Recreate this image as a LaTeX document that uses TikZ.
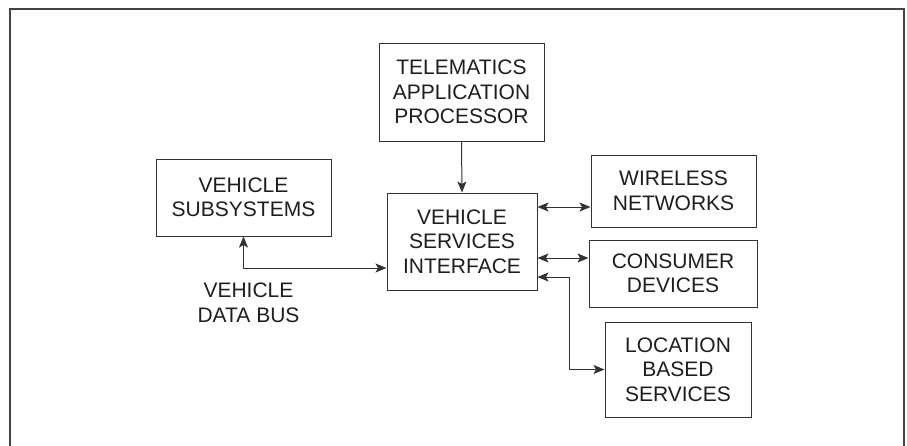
\documentclass[tikz,border=0pt]{standalone}
\usepackage{fontspec}
\setmainfont{Liberation Sans}
\usetikzlibrary{arrows.meta,positioning,calc}
\definecolor{inkdark}{HTML}{1E1E1E}
\definecolor{linedark}{HTML}{333333}
\definecolor{framegray}{HTML}{444444}

\begin{document}
\begin{tikzpicture}[
  x=1pt, y=-1pt,
  font=\fontsize{21}{24.5}\selectfont,
  blk/.style  = {draw=linedark, line width=1pt, text=inkdark, align=center,
                 inner sep=0pt},
  ln/.style   = {-{Stealth[length=11pt, width=9pt, inset=2.5pt]}, draw=linedark, line width=1pt},
  lnn/.style  = {{Stealth[length=11pt, width=9pt, inset=2.5pt]}-{Stealth[length=11pt, width=9pt, inset=2.5pt]},
                 draw=linedark, line width=1pt},
  lbl/.style  = {text=inkdark, align=center, inner sep=0pt},
]
\useasboundingbox (0,0) rectangle (907,445);

% --- outer frame ---------------------------------------------------------------------------------
\draw[framegray, line width=2pt] (10,480) -- (10,9) -- (903.5,9) -- (903.5,480);

% --- the blocks ----------------------------------------------------------------------------------
\node[blk, minimum width=165pt, minimum height=98pt] (tap) at (461.5,92)
  {TELEMATICS\\APPLICATION\\PROCESSOR};
\node[blk, minimum width=150pt, minimum height=97pt] (vsi) at (462,241.5)
  {VEHICLE\\SERVICES\\INTERFACE};
\node[blk, minimum width=175pt, minimum height=77pt] (vsub) at (243.5,197.5)
  {VEHICLE\\SUBSYSTEMS};
\node[blk, minimum width=165pt, minimum height=72pt] (wless) at (673.5,191)
  {WIRELESS\\NETWORKS};
\node[blk, minimum width=168pt, minimum height=67pt] (cdev) at (673,273.5)
  {CONSUMER\\DEVICES};
\node[blk, minimum width=146pt, minimum height=95pt] (lbs) at (678,369.5)
  {LOCATION\\BASED\\SERVICES};

\node[lbl] (busl) at (248.5,303) {VEHICLE\\DATA BUS};

% --- connectors ----------------------------------------------------------------------------------
\draw[ln] (tap.south) -- (vsi.north);

\coordinate (busin) at ([yshift=-26.5pt]vsi.west);
\draw[lnn] (vsub.south) |- (busin);

\coordinate (wlo) at ([yshift=34.5pt]vsi.east);
\coordinate (cdo) at ([yshift=-16.5pt]vsi.east);
\coordinate (lbo) at ([yshift=-35.5pt]vsi.east);
\draw[lnn] (wlo) -- (wlo -| wless.west);
\draw[lnn] (cdo) -- (cdo -| cdev.west);
\draw[lnn] (lbo) -- ++(32,0) |- (lbs.west);

\end{tikzpicture}
\end{document}
